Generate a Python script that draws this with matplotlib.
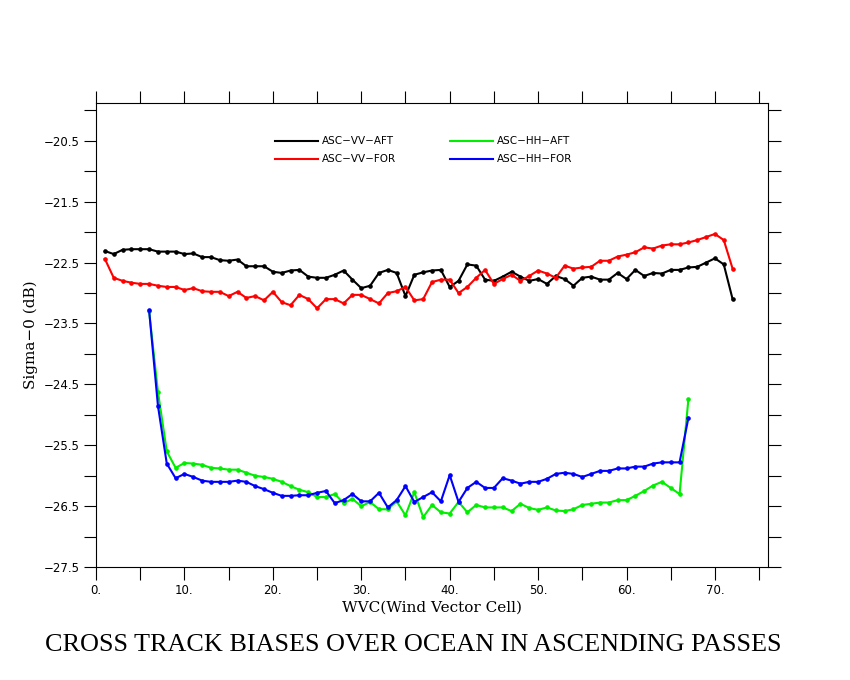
import matplotlib
matplotlib.use("Agg")
import matplotlib.pyplot as plt
import numpy as np
from matplotlib.ticker import MultipleLocator, FuncFormatter

x_v = list(range(1, 73))
v_aft = [-22.31,-22.36,-22.29,-22.28,-22.28,-22.28,-22.32,-22.32,-22.32,-22.36,-22.35,-22.41,-22.41,-22.46,-22.47,-22.45,
         -22.56,-22.56,-22.56,-22.65,-22.67,-22.63,-22.62,-22.73,-22.75,-22.75,-22.7,-22.63,-22.78,-22.92,-22.88,-22.67,
         -22.62,-22.67,-23.05,-22.7,-22.66,-22.63,-22.62,-22.9,-22.8,-22.53,-22.55,-22.78,-22.8,-22.73,-22.65,-22.73,
         -22.8,-22.77,-22.85,-22.72,-22.77,-22.88,-22.75,-22.73,-22.78,-22.78,-22.67,-22.77,-22.62,-22.72,-22.67,-22.68,
         -22.62,-22.62,-22.58,-22.57,-22.5,-22.43,-22.53,-23.1]
v_for = [-22.44,-22.75,-22.8,-22.83,-22.85,-22.85,-22.88,-22.9,-22.9,-22.95,-22.92,-22.97,-22.98,-22.98,-23.05,-22.98,
         -23.08,-23.05,-23.12,-22.98,-23.15,-23.2,-23.03,-23.1,-23.25,-23.1,-23.1,-23.17,-23.03,-23.03,-23.1,-23.17,
         -23.0,-22.97,-22.9,-23.12,-23.1,-22.82,-22.78,-22.78,-23.0,-22.9,-22.75,-22.62,-22.85,-22.77,-22.7,-22.8,
         -22.72,-22.63,-22.68,-22.75,-22.55,-22.6,-22.58,-22.57,-22.47,-22.47,-22.4,-22.37,-22.33,-22.25,-22.27,-22.22,
         -22.2,-22.2,-22.17,-22.13,-22.08,-22.03,-22.13,-22.6]
x_h = list(range(6, 68))
hh_aft = [-23.3,-24.62,-25.6,-25.87,-25.79,-25.8,-25.82,-25.87,-25.88,-25.9,-25.9,-25.95,-26.0,-26.02,-26.05,-26.1,
          -26.17,-26.23,-26.27,-26.35,-26.35,-26.3,-26.45,-26.38,-26.5,-26.43,-26.55,-26.55,-26.42,-26.65,-26.27,-26.68,
          -26.48,-26.6,-26.62,-26.43,-26.6,-26.48,-26.52,-26.52,-26.52,-26.58,-26.46,-26.53,-26.56,-26.52,-26.57,-26.58,
          -26.55,-26.48,-26.46,-26.44,-26.44,-26.4,-26.4,-26.33,-26.25,-26.16,-26.1,-26.2,-26.3,-24.74]
hh_for = [-23.28,-24.85,-25.8,-26.04,-25.97,-26.02,-26.08,-26.1,-26.1,-26.1,-26.08,-26.1,-26.17,-26.22,-26.28,-26.33,
          -26.33,-26.32,-26.32,-26.28,-26.25,-26.45,-26.4,-26.3,-26.42,-26.42,-26.28,-26.52,-26.4,-26.17,-26.43,-26.35,
          -26.27,-26.42,-25.99,-26.43,-26.2,-26.1,-26.2,-26.2,-26.04,-26.08,-26.13,-26.1,-26.1,-26.05,-25.97,-25.95,
          -25.97,-26.02,-25.97,-25.92,-25.92,-25.88,-25.88,-25.85,-25.85,-25.8,-25.78,-25.78,-25.78,-25.05]

fig = plt.figure(figsize=(8.5, 6.8), dpi=100)
ax = fig.add_axes([0.113, 0.166, 0.7905, 0.6825])
kw = dict(lw=1.5, marker='o', ms=2.3)
ax.plot(x_v, v_aft, color='black', **kw)
ax.plot(x_v, v_for, color='red', **kw)
ax.plot(x_h, hh_aft, color='#00ee00', **kw)
ax.plot(x_h, hh_for, color='blue', **kw)
ax.set_xlim(0, 76)
ax.set_ylim(-27.5, -19.88)
ax.xaxis.set_major_locator(MultipleLocator(10))
ax.xaxis.set_minor_locator(MultipleLocator(5))
ax.yaxis.set_major_locator(MultipleLocator(1, offset=0.5))
ax.yaxis.set_minor_locator(MultipleLocator(0.5))
ax.xaxis.set_major_formatter(FuncFormatter(lambda v, p: f"{int(v)}."))
ax.yaxis.set_major_formatter(FuncFormatter(lambda v, p: f"\u2212{abs(v):.1f}"))
ax.tick_params(which='both', direction='out', top=True, right=True, labelsize=8.5, width=0.8, length=9, pad=3)
for s in ax.spines.values():
    s.set_linewidth(0.8)
ax.set_xlabel('WVC(Wind Vector Cell)', family='DejaVu Serif', fontsize=11, labelpad=3)
ax.set_ylabel('Sigma\u22120 (dB)', family='DejaVu Serif', fontsize=11)
items = [('ASC\u2212VV\u2212AFT', 'black', 275, 141), ('ASC\u2212VV\u2212FOR', 'red', 275, 159),
         ('ASC\u2212HH\u2212AFT', '#00ee00', 450, 141), ('ASC\u2212HH\u2212FOR', 'blue', 450, 159)]
for lab, c, px, py in items:
    fy = 1 - py / 680
    fig.add_artist(plt.Line2D([px/850, (px+43)/850], [fy, fy], color=c, lw=1.5))
    fig.text((px+47)/850, fy, lab, fontsize=7.5, va='center')
fig.text(0.486, 1-645/680, 'CROSS TRACK BIASES OVER OCEAN IN ASCENDING PASSES',
         family='Liberation Serif', fontsize=18.8, ha='center', va='center')
fig.savefig('out.png', dpi=100)
